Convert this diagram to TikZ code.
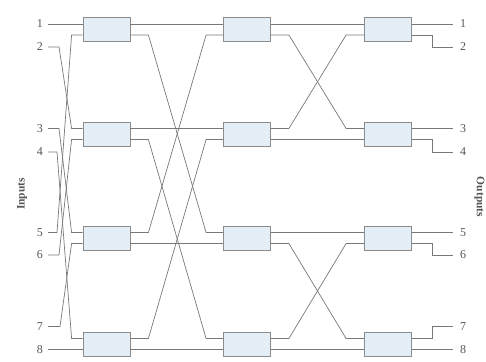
\documentclass[tikz,border=0pt]{standalone}
\usepackage{fontspec}
\setmainfont{Liberation Serif}
\definecolor{boxfill}{RGB}{228,238,246}
\definecolor{boxline}{RGB}{140,140,140}
\definecolor{wiregray}{RGB}{120,120,120}
\definecolor{textgray}{RGB}{85,85,85}
\tikzset{
  swbox/.style={draw=boxline, fill=boxfill, line width=0.8pt, minimum width=47pt, minimum height=24pt, inner sep=0pt},
  wire/.style={draw=wiregray, line width=0.7pt},
  num/.style={text=textgray, font=\fontsize{12}{14}\selectfont, inner sep=0pt},
  side/.style={text=textgray, font=\fontsize{11.5}{13}\selectfont\bfseries, inner sep=0pt}
}
\begin{document}
\begin{tikzpicture}[x=1pt, y=-1pt]
    \useasboundingbox (0,0) rectangle (486,361);
    % Switch boxes
    \node[swbox] (sw11) at (106.5,29.5) {};
    \node[swbox] (sw12) at (106.5,134) {};
    \node[swbox] (sw13) at (106.5,238) {};
    \node[swbox] (sw14) at (106.5,344) {};
    \node[swbox] (sw21) at (247,29.5) {};
    \node[swbox] (sw22) at (247,134) {};
    \node[swbox] (sw23) at (247,238) {};
    \node[swbox] (sw24) at (247,344) {};
    \node[swbox] (sw31) at (388,29.5) {};
    \node[swbox] (sw32) at (388,134) {};
    \node[swbox] (sw33) at (388,238) {};
    \node[swbox] (sw34) at (388,344) {};
    % Ports of each box
    \foreach \s in {sw11,sw12,sw13,sw14,sw21,sw22,sw23,sw24,sw31,sw32,sw33,sw34}{
        \coordinate (\s i1) at ([yshift=5.5pt]\s.west);
        \coordinate (\s i2) at ([yshift=-5.5pt]\s.west);
        \coordinate (\s o1) at ([yshift=5.5pt]\s.east);
        \coordinate (\s o2) at ([yshift=-5.5pt]\s.east);
    }
    % Input numbers
    \node[num, anchor=east] (in1) at (43,24) {1};
    \node[num, anchor=east] (in2) at (43,47) {2};
    \node[num, anchor=east] (in3) at (43,128.5) {3};
    \node[num, anchor=east] (in4) at (43,152) {4};
    \node[num, anchor=east] (in5) at (43,232.5) {5};
    \node[num, anchor=east] (in6) at (43,255) {6};
    \node[num, anchor=east] (in7) at (43,326.5) {7};
    \node[num, anchor=east] (in8) at (43,349.5) {8};
    \node[side, rotate=90] (inlbl) at (22,194) {Inputs};
    % Output numbers
    \node[num, anchor=west] (out1) at (460,24) {1};
    \node[num, anchor=west] (out2) at (460,47) {2};
    \node[num, anchor=west] (out3) at (460,128.5) {3};
    \node[num, anchor=west] (out4) at (460,152) {4};
    \node[num, anchor=west] (out5) at (460,232.5) {5};
    \node[num, anchor=west] (out6) at (460,255) {6};
    \node[num, anchor=west] (out7) at (460,326.5) {7};
    \node[num, anchor=west] (out8) at (460,349.5) {8};
    \node[side, rotate=-90] (outlbl) at (479.5,197) {Outputs};
    % Inputs to first column
    \draw[wire] ([xshift=5pt]in1.east) -- (sw11i1);
    \draw[wire] ([xshift=5pt]in2.east) -- ++(11,0) -- ([xshift=-11pt]sw12i1) -- (sw12i1);
    \draw[wire] ([xshift=5pt]in3.east) -- ++(11,0) -- ([xshift=-11pt]sw13i1) -- (sw13i1);
    \draw[wire] ([xshift=5pt]in4.east) -- ++(9,0) -- ([xshift=-11pt]sw14i1) -- (sw14i1);
    \draw[wire] ([xshift=5pt]in5.east) -- ++(9,0) -- ([xshift=-11pt]sw11i2) -- (sw11i2);
    \draw[wire] ([xshift=5pt]in6.east) -- ++(11,0) -- ([xshift=-11pt]sw12i2) -- (sw12i2);
    \draw[wire] ([xshift=5pt]in7.east) -- ++(12,0) -- ([xshift=-11pt]sw13i2) -- (sw13i2);
    \draw[wire] ([xshift=5pt]in8.east) -- (sw14i2);
    % First column to second column
    \draw[wire] (sw11o1) -- (sw21i1);
    \draw[wire] (sw11o2) -- ++(18,0) -- ([xshift=-17pt]sw23i1) -- (sw23i1);
    \draw[wire] (sw13o1) -- ++(18,0) -- ([xshift=-17pt]sw21i2) -- (sw21i2);
    \draw[wire] (sw13o2) -- (sw23i2);
    \draw[wire] (sw12o1) -- (sw22i1);
    \draw[wire] (sw12o2) -- ++(18,0) -- ([xshift=-17pt]sw24i1) -- (sw24i1);
    \draw[wire] (sw14o1) -- ++(18,0) -- ([xshift=-17pt]sw22i2) -- (sw22i2);
    \draw[wire] (sw14o2) -- (sw24i2);
    % Second column to third column
    \draw[wire] (sw21o1) -- (sw31i1);
    \draw[wire] (sw21o2) -- ++(18,0) -- ([xshift=-18pt]sw32i1) -- (sw32i1);
    \draw[wire] (sw22o1) -- ++(18,0) -- ([xshift=-18pt]sw31i2) -- (sw31i2);
    \draw[wire] (sw22o2) -- (sw32i2);
    \draw[wire] (sw23o1) -- (sw33i1);
    \draw[wire] (sw23o2) -- ++(18,0) -- ([xshift=-18pt]sw34i1) -- (sw34i1);
    \draw[wire] (sw24o1) -- ++(18,0) -- ([xshift=-18pt]sw33i2) -- (sw33i2);
    \draw[wire] (sw24o2) -- (sw34i2);
    % Third column to outputs
    \draw[wire] (sw31o1) -- ([xshift=-7pt]out1.west);
    \draw[wire] (sw31o2) -- ++(20,0) |- ([xshift=-7pt]out2.west);
    \draw[wire] (sw32o1) -- ([xshift=-7pt]out3.west);
    \draw[wire] (sw32o2) -- ++(20,0) |- ([xshift=-7pt]out4.west);
    \draw[wire] (sw33o1) -- ([xshift=-7pt]out5.west);
    \draw[wire] (sw33o2) -- ++(20,0) |- ([xshift=-7pt]out6.west);
    \draw[wire] (sw34o1) -- ++(20,0) |- ([xshift=-7pt]out7.west);
    \draw[wire] (sw34o2) -- ([xshift=-7pt]out8.west);
\end{tikzpicture}
\end{document}
